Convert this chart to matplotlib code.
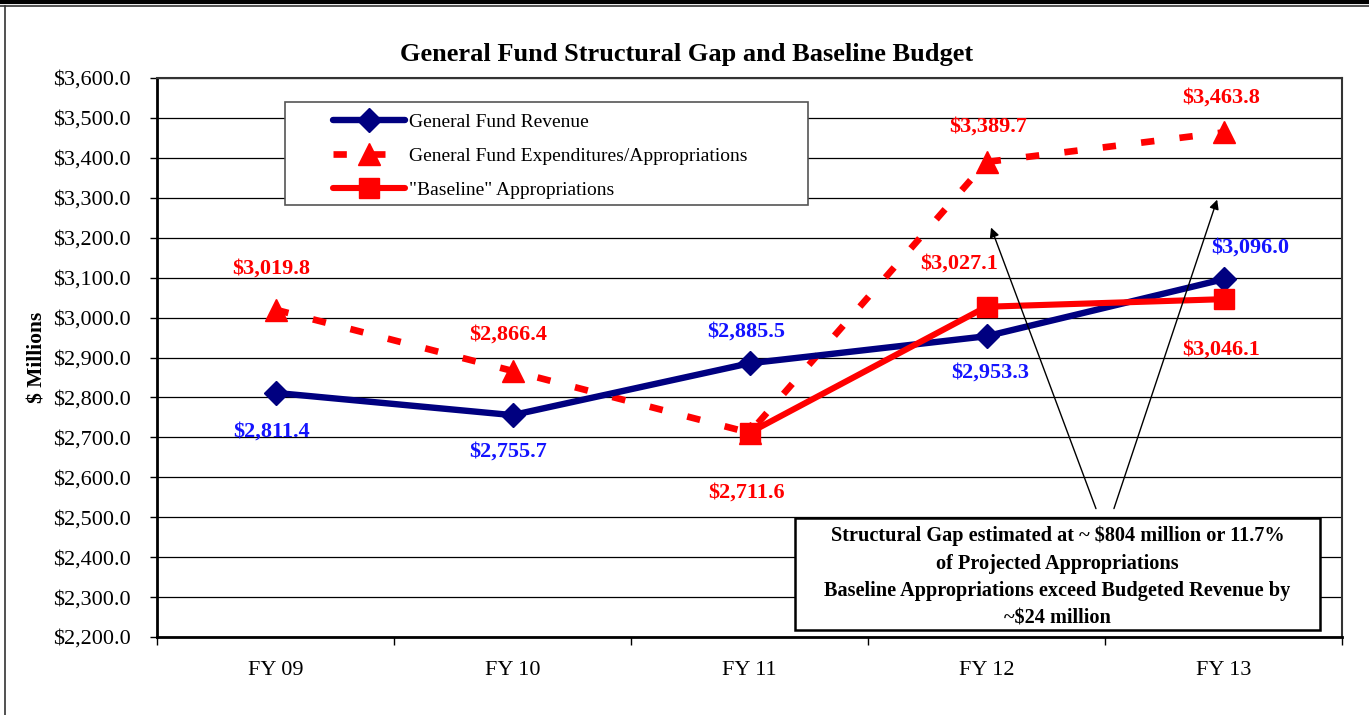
import matplotlib
matplotlib.use("Agg")
import matplotlib.pyplot as plt
import numpy as np
from matplotlib.lines import Line2D
from matplotlib.patches import Rectangle
from matplotlib.ticker import FuncFormatter, MultipleLocator

plt.rcParams['font.family'] = ['Liberation Serif', 'DejaVu Serif']

categories = ["FY 09", "FY 10", "FY 11", "FY 12", "FY 13"]
revenue = [2811.4, 2755.7, 2885.5, 2953.3, 3096.0]
expenditures = [3019.8, 2866.4, 2711.6, 3389.7, 3463.8]
baseline = [np.nan, np.nan, 2711.6, 3027.1, 3046.1]

rev_label_offsets = [(-4, -39), (-4, -36), (-3, 32), (4, -36), (27, 32)]
exp_label_offsets = [(-4, 41), (-4, 36), (-3, -60), (2, 35), (-2, 35)]
base_label_offsets = [None, None, None, (-27, 43), (-2, -50)]

NAVY = "#000080"
RED = "#FF0000"
BLUE = "#1414FF"

fig = plt.figure(figsize=(13.69, 7.15), dpi=100)
ax = fig.add_axes([157/1369, 1-637/715, 1185/1369, 559/715])

x = np.arange(len(categories))

ax.plot(x, revenue, color=NAVY, lw=4.6, marker='D', ms=12.5, zorder=4,
        solid_capstyle='round', label="General Fund Revenue")
ax.plot(x, expenditures, color=RED, lw=4.8, ls=(0, (2.0, 3.8)), marker='^', ms=16,
        zorder=3, label="General Fund Expenditures/Appropriations")
ax.plot(x, baseline, color=RED, lw=4.4, marker='s', ms=14.5, zorder=5,
        solid_capstyle='round', label='"Baseline" Appropriations')

ax.set_xlim(-0.5, 4.5)
ax.set_ylim(2200, 3600)
ax.yaxis.set_major_locator(MultipleLocator(100))
ax.yaxis.set_major_formatter(FuncFormatter(lambda v, p: f"${v:,.1f}"))
ax.grid(axis='y', color='black', lw=0.9)
ax.set_axisbelow(True)

ax.set_xticks(x)
ax.set_xticklabels(categories)
ax.set_xticks(np.arange(-0.5, 5.0, 1.0), minor=True)
ax.tick_params(axis='x', which='major', length=0, pad=17, labelsize=16)
ax.tick_params(axis='x', which='minor', length=6, width=1, direction='out')
ax.tick_params(axis='y', length=5, width=1, direction='out', labelsize=16, pad=14)

for s in ['left', 'bottom']:
    ax.spines[s].set_linewidth(2)
for s in ['top', 'right']:
    ax.spines[s].set_linewidth(1.5)
    ax.spines[s].set_color('#333333')

ax.set_ylabel("$ Millions", fontsize=15.5, fontweight='bold', labelpad=4)

fig.text(687/1369, 1-54/715, "General Fund Structural Gap and Baseline Budget",
         ha='center', va='center', fontsize=19, fontweight='bold')

def lab(xi, yi, off, color):
    ax.annotate(f"${yi:,.1f}", (xi, yi), xytext=off, textcoords='offset pixels',
                ha='center', va='center', fontsize=16, fontweight='bold',
                color=color, zorder=6)

for i, v in enumerate(revenue):
    lab(i, v, rev_label_offsets[i], BLUE)
for i, v in enumerate(expenditures):
    lab(i, v, exp_label_offsets[i], RED)
for i, v in enumerate(baseline):
    if base_label_offsets[i] is not None:
        lab(i, v, base_label_offsets[i], RED)

# legend box
lx0 = (285-157)/1185
lx1 = (808-157)/1185
ly0 = (637-205)/559
ly1 = (637-102)/559
ax.add_patch(Rectangle((lx0, ly0), lx1-lx0, ly1-ly0, transform=ax.transAxes,
                       facecolor='white', edgecolor='#555555', lw=1.2, zorder=7))
leg = ax.legend(loc='upper left', bbox_to_anchor=((333-157)/1185, (637-113)/559),
                frameon=False, fontsize=14, handlelength=3.7, handletextpad=0.2,
                labelspacing=0.85, borderpad=0, borderaxespad=0)
leg.set_zorder(8)

# annotation box
bx0 = (795-157)/1185
bx1 = (1320-157)/1185
by0 = (637-630)/559
by1 = (637-518)/559
ax.text((bx0+bx1)/2, (by0+by1)/2 - 0.006,
        "Structural Gap estimated at ~ $804 million or 11.7%\nof Projected Appropriations\n"
        "Baseline Appropriations exceed Budgeted Revenue by\n~$24 million",
        transform=ax.transAxes, ha='center', va='center', fontsize=14.6,
        fontweight='bold', linespacing=1.5, zorder=8)
ax.add_patch(Rectangle((bx0, by0), bx1-bx0, by1-by0, transform=ax.transAxes,
                       facecolor='white', edgecolor='black', lw=1.8, zorder=7))

# arrows
ap = dict(arrowstyle='-|>', color='black', lw=1.0, mutation_scale=14)
ax.annotate("", xy=(3.015, 3232), xytext=(3.466, 2515), arrowprops=ap, zorder=6)
ax.annotate("", xy=(3.977, 3302), xytext=(3.534, 2515), arrowprops=ap, zorder=6)

# outer frame
fig.add_artist(Line2D([0, 1], [1-1.5/715, 1-1.5/715], color='black', lw=3, transform=fig.transFigure))
fig.add_artist(Line2D([0, 1], [1-6/715, 1-6/715], color='#333333', lw=1.2, transform=fig.transFigure))
fig.add_artist(Line2D([5.5/1369, 5.5/1369], [0, 1-6/715], color='#333333', lw=1.2, transform=fig.transFigure))

fig.savefig("out.png", dpi=100)
